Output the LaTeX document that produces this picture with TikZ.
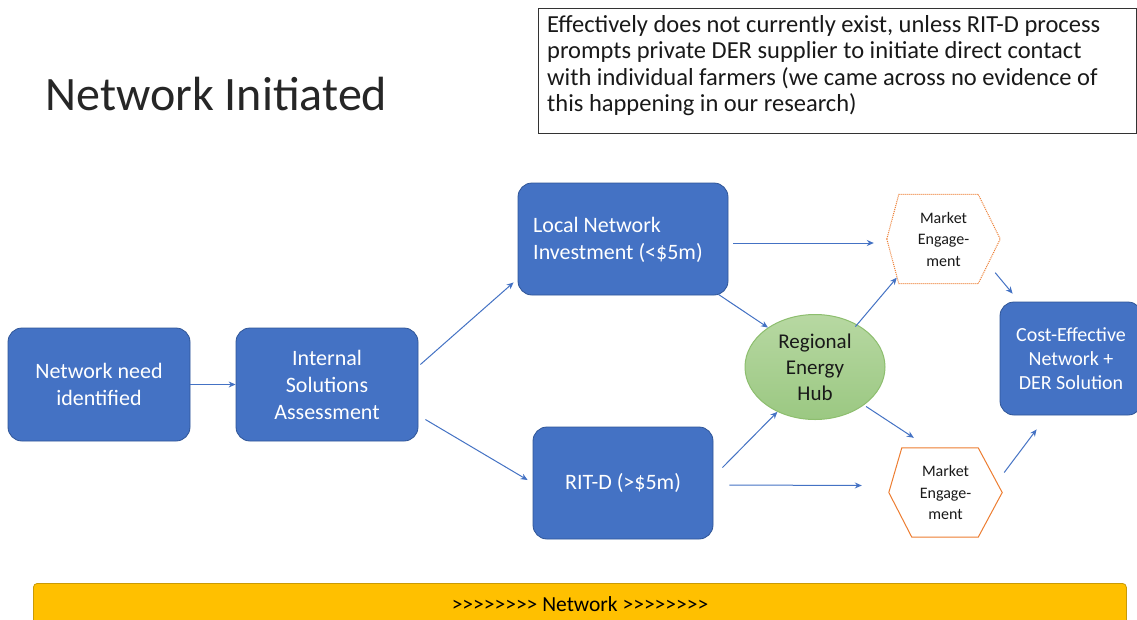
\documentclass[tikz,border=0pt]{standalone}
\usepackage{fontspec}
\setmainfont{Carlito}
\usetikzlibrary{arrows.meta,calc,shapes.geometric}
\definecolor{bluefill}{HTML}{4472C4}
\definecolor{blueedge}{HTML}{2F5597}
\definecolor{arrowblue}{HTML}{4472C4}
\definecolor{greentop}{HTML}{B7D8A2}
\definecolor{greenbot}{HTML}{9BC882}
\definecolor{greenedge}{HTML}{8DBE6E}
\definecolor{orangeedge}{HTML}{ED7D31}
\definecolor{barfill}{HTML}{FFC000}
\definecolor{baredge}{HTML}{C99A06}
\newcommand{\gtrun}{>\kern0pt>\kern0pt>\kern0pt>\kern0pt>\kern0pt>\kern0pt>\kern0pt>}
\tikzset{
  bluebox/.style={draw=blueedge, line width=0.8pt, fill=bluefill, rounded corners=14pt,
    text=white, align=center, inner sep=0pt},
  arr/.style={draw=arrowblue, line width=1pt, -{Stealth[length=7pt,width=6pt]}},
  hexnode/.style={minimum width=113pt, minimum height=89pt, inner sep=0pt, align=center,
    font=\fontsize{16}{21.5}\selectfont},
  hexline/.style={draw=orangeedge, line width=1pt},
}
\begin{document}
\begin{tikzpicture}[x=1pt,y=-1pt]
\clip (0,0) rectangle (1137,619);
\fill[white] (0,0) rectangle (1137,619);

% title
\node[anchor=west, font=\fontsize{48}{54}\selectfont, text=black!85] (title) at (42,94) {Network Initiated};

% note box
\node[draw=black!80, line width=1pt, minimum width=598pt, minimum height=125pt, anchor=north west,
  inner sep=0pt] (note) at (538,8) {};
\node[anchor=north west, align=left, font=\fontsize{24.5}{26.5}\selectfont, text=black!90, inner sep=0pt]
  (notetext) at (547,15) {Effectively does not currently exist, unless RIT-D process\\
prompts private DER supplier to initiate direct contact\\
with individual farmers (we came across no evidence of\\
this happening in our research)};

% boxes
\node[bluebox, minimum width=182pt, minimum height=113pt, font=\fontsize{22}{27}\selectfont]
  (b1) at (99,384.5) {Network need\\identified};
\node[bluebox, minimum width=182pt, minimum height=113pt, font=\fontsize{22}{27}\selectfont]
  (b2) at (327,384.5) {Internal\\Solutions\\Assessment};
\node[bluebox, minimum width=210pt, minimum height=112pt] (b3) at (623,239) {};
\node[anchor=west, text=white, align=left, inner sep=0pt, font=\fontsize{22}{27}\selectfont]
  (b3text) at (533,240) {Local Network\\Investment (<\$5m)};
\node[bluebox, minimum width=180pt, minimum height=112pt, font=\fontsize{22}{27}\selectfont]
  (b4) at (623,483) {RIT-D (>\$5m)};
\node[bluebox, minimum width=142pt, minimum height=113pt, font=\fontsize{20}{24}\selectfont]
  (b5) at (1071,358.5) {Cost-Effective\\Network +\\DER Solution};

% ellipse
\node[ellipse, draw=greenedge, line width=1pt, top color=greentop, bottom color=greenbot,
  minimum width=140pt, minimum height=105pt,
  inner sep=0pt, align=center, font=\fontsize{21}{26}\selectfont, text=black!90]
  (hub) at (815,367) {Regional\\Energy\\Hub};

% hexagons
\node[hexnode, text=black!90] (mt) at (943.5,239) {Market\\Engage-\\ment};
\draw[hexline, densely dotted] (mt.west) -- ([xshift=12]mt.north west) -- ([xshift=-22]mt.north east)
  -- (mt.east) -- ([xshift=-22]mt.south east) -- ([xshift=12]mt.south west) -- cycle;
\node[hexnode, text=black!90] (mb) at (945.5,492.5) {Market\\Engage-\\ment};
\draw[hexline] (mb.west) -- ([xshift=13]mb.north west) -- ([xshift=-24]mb.north east)
  -- (mb.east) -- ([xshift=-24]mb.south east) -- ([xshift=23]mb.south west) -- cycle;

% bottom bar
\node[draw=baredge, line width=0.8pt, fill=barfill, rounded corners=4pt, minimum width=1093pt,
  minimum height=60pt, anchor=north west, inner sep=0pt] (bar) at (33,583) {};
\node[font=\fontsize{21.5}{22}\selectfont, text=black] (bartext) at (580,604) {\gtrun{} Network \gtrun};

% arrows
\draw[arr] (b1.east) -- (b2.west);
\draw[arr] ([shift={(2,-20)}]b2.east) -- ([shift={(-4,-13)}]b3.south west);
\draw[arr] ([shift={(7,35)}]b2.east) -- ([shift={(-5,-3)}]b4.west);
\draw[arr] ([shift={(5,4)}]b3.east) -- ([shift={(-13,4)}]mt.west);
\draw[arr] ([shift={(-10,-1)}]b3.south east) -- (hub.140);
\draw[arr] ([shift={(9,41)}]b4.north east) -- (hub.230);
\draw[arr] ([shift={(16,2)}]b4.east) -- ([shift={(-27,-7)}]mb.west);
\draw[arr] ([shift={(-2,2)}]hub.45) -- ([shift={(10,-6)}]mt.south west);
\draw[arr] ([shift={(4,0)}]hub.-40) -- ([shift={(25,-10)}]mb.north west);
\draw[arr] ([shift={(-5,-11)}]mt.south east) -- ([shift={(13,-8)}]b5.north west);
\draw[arr] ([shift={(2,-20)}]mb.east) -- ([shift={(37,14)}]b5.south west);
\end{tikzpicture}
\end{document}
